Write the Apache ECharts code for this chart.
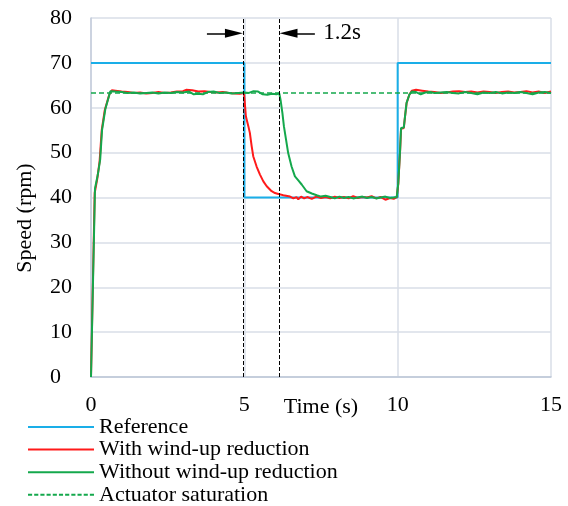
<!DOCTYPE html>
<html>
<head>
<meta charset="utf-8">
<script src="https://cdn.jsdelivr.net/npm/echarts@6/dist/echarts.min.js"></script>
<style>
  html, body { margin: 0; padding: 0; background: #fff; }
  #chart { width: 568px; height: 506px; }
</style>
</head>
<body>
<div id="chart"></div>
<script>
// Speed response of the motor, time in seconds, speed in rpm.
const seriesNames = ['Reference', 'With wind-up reduction', 'Without wind-up reduction', 'Actuator saturation'];
const xTicks = [0, 5, 10, 15];
const yTicks = [0, 10, 20, 30, 40, 50, 60, 70, 80];

// Speed set-point
const referenceSpeed = [[0, 70], [5, 70], [5, 40], [10, 40], [10, 70], [15, 70]];

// Measured speed with anti wind-up
const withReduction = [
  [0, 0], [0.12, 41], [0.2, 44], [0.28, 48], [0.35, 55], [0.45, 59.5], [0.6, 63], [0.68, 63.9],
  [0.8, 63.8], [1.0, 63.6], [1.2, 63.5], [1.4, 63.3], [1.6, 63.4], [1.8, 63.2], [2.0, 63.3],
  [2.2, 63.5], [2.4, 63.3], [2.6, 63.4], [2.8, 63.6], [3.0, 63.7], [3.1, 64.0], [3.3, 63.9],
  [3.5, 63.6], [3.7, 63.7], [3.9, 63.5], [4.1, 63.4], [4.3, 63.5], [4.5, 63.3], [4.7, 63.2],
  [4.85, 63.1], [4.99, 63.3], [5.05, 58.1], [5.13, 55.9], [5.18, 54.4], [5.24, 51.4], [5.29, 49.2],
  [5.4, 46.9], [5.51, 45.1], [5.62, 43.6], [5.73, 42.5], [5.89, 41.4], [6.0, 41.0], [6.11, 40.8],
  [6.27, 40.5], [6.49, 40.2], [6.6, 39.8], [6.7, 40.1], [6.76, 39.6], [6.85, 40.2], [6.95, 39.8],
  [7.05, 40.1], [7.2, 39.7], [7.35, 40.2], [7.5, 39.9], [7.65, 40.1], [7.8, 39.8], [7.95, 40.2],
  [8.1, 39.9], [8.25, 40.1], [8.4, 39.8], [8.55, 40.3], [8.7, 39.9], [8.85, 40.1], [9.0, 40.0],
  [9.15, 40.3], [9.3, 39.8], [9.45, 40.1], [9.6, 39.5], [9.75, 39.9], [9.87, 39.7], [9.97, 40.1],
  [10.02, 43], [10.08, 50.5], [10.11, 55.3], [10.16, 55.6], [10.2, 55.5], [10.24, 58], [10.29, 61],
  [10.38, 62.9], [10.46, 63.8], [10.6, 64.0], [10.8, 63.8], [11.0, 63.6], [11.2, 63.5], [11.4, 63.3],
  [11.6, 63.4], [11.8, 63.6], [12.0, 63.7], [12.2, 63.5], [12.4, 63.6], [12.6, 63.4], [12.8, 63.6],
  [13.0, 63.5], [13.2, 63.3], [13.4, 63.5], [13.6, 63.6], [13.8, 63.4], [14.0, 63.5], [14.2, 63.7],
  [14.4, 63.4], [14.6, 63.6], [14.8, 63.3], [15.0, 63.6]
];

// Measured speed without anti wind-up
const withoutReduction = [
  [0, 0], [0.13, 42], [0.22, 45], [0.3, 48.5], [0.36, 55], [0.47, 59.8], [0.63, 63.7], [0.8, 63.6],
  [1.0, 63.5], [1.2, 63.3], [1.4, 63.4], [1.6, 63.2], [1.8, 63.3], [2.0, 63.4], [2.2, 63.2],
  [2.4, 63.4], [2.6, 63.3], [2.8, 63.5], [3.0, 63.4], [3.2, 63.6], [3.35, 63.0], [3.5, 63.1],
  [3.65, 63.0], [3.8, 63.5], [4.0, 63.6], [4.2, 63.3], [4.4, 63.4], [4.6, 63.2], [4.8, 63.3],
  [5.0, 63.4], [5.15, 63.3], [5.3, 63.7], [5.45, 63.6], [5.6, 63.0], [5.75, 62.9], [5.9, 63.1],
  [6.05, 63.0], [6.14, 63.2], [6.18, 61.8], [6.24, 58.9], [6.29, 55.9], [6.36, 52.9], [6.43, 49.9],
  [6.54, 46.9], [6.65, 44.7], [6.76, 43.8], [6.87, 42.9], [7.03, 41.4], [7.2, 40.9], [7.36, 40.5],
  [7.5, 40.2], [7.65, 40.4], [7.8, 40.1], [7.95, 39.8], [8.1, 40.2], [8.25, 39.9], [8.4, 40.1],
  [8.55, 39.8], [8.7, 40.0], [8.85, 40.2], [9.0, 39.9], [9.15, 40.1], [9.3, 39.8], [9.45, 40.0],
  [9.6, 40.2], [9.75, 39.9], [9.87, 40.0], [9.97, 40.1], [10.02, 43.2], [10.08, 50.7], [10.11, 55.5],
  [10.16, 55.7], [10.2, 55.6], [10.24, 58.1], [10.29, 61.1], [10.38, 62.9], [10.46, 63.6], [10.6, 63.5],
  [10.75, 63.0], [10.9, 63.4], [11.05, 63.5], [11.2, 63.3], [11.4, 63.4], [11.6, 63.5], [11.8, 63.3],
  [12.0, 63.2], [12.2, 63.5], [12.4, 63.3], [12.6, 63.0], [12.8, 63.4], [13.0, 63.3], [13.2, 63.5],
  [13.4, 63.2], [13.6, 63.4], [13.8, 63.3], [14.0, 63.5], [14.2, 63.3], [14.4, 63.0], [14.6, 63.4],
  [14.8, 63.5], [15.0, 63.3]
];

// Speed limit imposed by the actuator
const saturationSpeed = [[0, 63.3], [15, 63.3]];

// Delay between the two responses
const delayStart = 4.95;
const delayEnd = 6.15;
const delayLabel = '1.2s';
const arrowLevel = 76.6;

const FONT = '"Liberation Serif", "Times New Roman", serif';
const GRID_COLOR = '#d9dee7';
const BLUE = '#1aaee8', RED = '#ff1a1a', GREEN = '#14a84c';

// Legend keys: a plain stroke, and a dashed one for the saturation level
const SOLID_KEY = 'path://M0,0H64V1H0Z';
const DASHED_KEY = 'path://M0,0H4V1H0Z M6,0H10V1H6Z M12,0H16V1H12Z M18,0H22V1H18Z M24,0H28V1H24Z M30,0H34V1H30Z M36,0H40V1H36Z M42,0H46V1H42Z M48,0H52V1H48Z M54,0H58V1H54Z M60,0H64V1H60Z';

const chart = echarts.init(document.getElementById('chart'), null, { renderer: 'canvas' });

const lineSeries = (name, data, color, extra) => Object.assign({
  name, type: 'line', data,
  symbol: 'none', showSymbol: false, animation: false,
  lineStyle: { color, width: 2 },
  itemStyle: { color }
}, extra || {});

chart.setOption({
  animation: false,
  backgroundColor: '#fff',
  grid: { left: 91, right: 17, top: 18, bottom: 129, containLabel: false },
  xAxis: {
    type: 'value', min: 0, max: 15, interval: 5,
    name: 'Time (s)', nameLocation: 'middle', nameGap: 19, nameMoveOverlap: false,
    nameTextStyle: { fontFamily: FONT, fontSize: 22, color: '#000' },
    axisLine: { show: true, lineStyle: { color: '#bcc6d6', width: 1.5 } },
    axisTick: { show: false },
    axisLabel: {
      fontFamily: FONT, fontSize: 22, color: '#000', margin: 17,
      formatter: v => (xTicks.includes(v) ? String(v) : '')
    },
    splitLine: { show: true, lineStyle: { color: GRID_COLOR, width: 1.5 } }
  },
  yAxis: {
    type: 'value', min: 0, max: 80, interval: 10,
    axisLine: { show: true, lineStyle: { color: '#c4cddb', width: 1.5 } },
    axisTick: { show: false },
    axisLabel: {
      fontFamily: FONT, fontSize: 22, color: '#000', margin: 41, align: 'left',
      formatter: v => (yTicks.includes(v) ? String(v) : '')
    },
    splitLine: { show: true, lineStyle: { color: GRID_COLOR, width: 1.5 } }
  },
  legend: {
    orient: 'vertical', left: 28, top: 416, height: 120, padding: 0,
    itemWidth: 66, itemHeight: 2, itemGap: 0.6,
    symbolKeepAspect: false,
    data: [
      { name: seriesNames[0], icon: SOLID_KEY },
      { name: seriesNames[1], icon: SOLID_KEY },
      { name: seriesNames[2], icon: SOLID_KEY },
      { name: seriesNames[3], icon: DASHED_KEY }
    ],
    textStyle: { fontFamily: FONT, fontSize: 22, color: '#000', lineHeight: 22 },
    selectedMode: false
  },
  graphic: [{
    type: 'text', x: 25, y: 218, rotation: Math.PI / 2,
    style: {
      text: 'Speed (rpm)', font: '22px ' + FONT, fill: '#000',
      align: 'center', verticalAlign: 'middle', textAlign: 'center', textVerticalAlign: 'middle'
    }
  }],
  series: [
    lineSeries(seriesNames[0], referenceSpeed, BLUE),
    lineSeries(seriesNames[1], withReduction, RED),
    lineSeries(seriesNames[2], withoutReduction, GREEN),
    lineSeries(seriesNames[3], saturationSpeed, GREEN, {
      lineStyle: { color: GREEN, width: 1.5, type: [5, 3] },
      markLine: {
        silent: true, animation: false,
        symbol: ['none', 'none'],
        label: { show: false },
        lineStyle: { color: '#000', width: 1, type: [4, 2] },
        data: [
          { xAxis: delayStart },
          { xAxis: delayEnd },
          [
            { coord: [delayStart - 1.17, arrowLevel], symbol: 'none', lineStyle: { type: 'solid', width: 1.5, color: '#000' } },
            { coord: [delayStart - 0.29, arrowLevel], symbol: 'triangle', symbolSize: [9, 18] }
          ],
          [
            { coord: [delayEnd + 1.15, arrowLevel], symbol: 'none', lineStyle: { type: 'solid', width: 1.5, color: '#000' } },
            { coord: [delayEnd + 0.29, arrowLevel], symbol: 'triangle', symbolSize: [9, 18] }
          ]
        ]
      },
      markPoint: {
        silent: true, animation: false,
        symbol: 'circle', symbolSize: 1,
        itemStyle: { color: 'rgba(0,0,0,0)' },
        label: {
          show: true, position: 'right', distance: 8,
          fontFamily: FONT, fontSize: 23, color: '#000',
          formatter: () => delayLabel
        },
        data: [{ coord: [delayEnd + 1.15, arrowLevel] }]
      }
    })
  ]
});
</script>
</body>
</html>
